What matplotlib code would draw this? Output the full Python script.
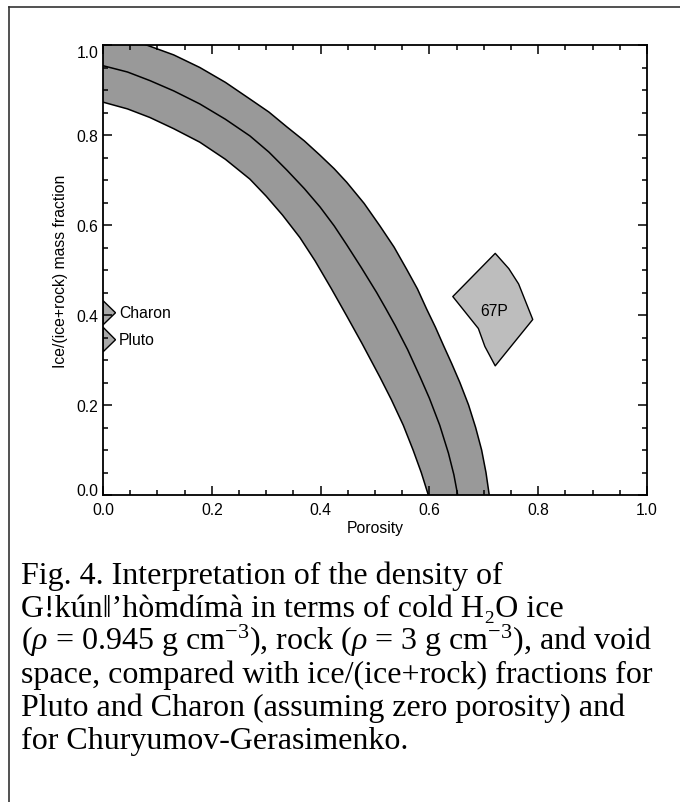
import matplotlib
matplotlib.use("Agg")
import matplotlib.pyplot as plt
from matplotlib.lines import Line2D
from matplotlib.ticker import MultipleLocator

# Band of allowed solutions: porosity vs ice/(ice+rock)
upper_phi = [0.000, 0.040, 0.080, 0.130, 0.178, 0.225, 0.270, 0.305, 0.338, 0.370, 0.399, 0.425,
             0.448, 0.480, 0.509, 0.535, 0.558, 0.578, 0.595, 0.611, 0.626, 0.641, 0.656, 0.672,
             0.685, 0.696, 0.704, 0.710]
upper_f = [1.030, 1.016, 1.000, 0.978, 0.950, 0.917, 0.880, 0.851, 0.818, 0.787, 0.755, 0.725,
           0.695, 0.648, 0.598, 0.551, 0.502, 0.458, 0.413, 0.373, 0.332, 0.292, 0.250, 0.200,
           0.150, 0.100, 0.050, 0.000]

middle_phi = [0.000, 0.045, 0.086, 0.130, 0.178, 0.225, 0.270, 0.305, 0.338, 0.370, 0.399, 0.425,
              0.448, 0.475, 0.503, 0.520, 0.537, 0.560, 0.583, 0.600, 0.619, 0.635, 0.645, 0.652]
middle_f = [0.954, 0.940, 0.921, 0.898, 0.869, 0.835, 0.798, 0.762, 0.722, 0.681, 0.640, 0.598,
            0.556, 0.505, 0.450, 0.414, 0.377, 0.323, 0.262, 0.215, 0.155, 0.093, 0.045, 0.000]

lower_phi = [0.000, 0.045, 0.086, 0.130, 0.178, 0.225, 0.270, 0.300, 0.330, 0.362, 0.390, 0.420,
             0.448, 0.476, 0.509, 0.530, 0.552, 0.570, 0.585, 0.598]
lower_f = [0.873, 0.858, 0.839, 0.814, 0.784, 0.746, 0.702, 0.664, 0.622, 0.572, 0.520, 0.458,
           0.398, 0.337, 0.262, 0.212, 0.155, 0.100, 0.050, 0.000]

# Pluto / Charon markers (zero porosity) and the 67P region
charon_phi = [0.0, 0.023, 0.0]
charon_f = [0.432, 0.405, 0.378]
pluto_phi = [0.0, 0.023, 0.0]
pluto_f = [0.373, 0.345, 0.318]
comet_phi = [0.643, 0.721, 0.746, 0.764, 0.790, 0.721, 0.702, 0.690, 0.643]
comet_f = [0.441, 0.537, 0.503, 0.469, 0.390, 0.287, 0.330, 0.370, 0.441]

ticks = [0.0, 0.2, 0.4, 0.6, 0.8, 1.0]
tick_labels = ["0.0", "0.2", "0.4", "0.6", "0.8", "1.0"]

caption = [
    "Fig. 4. Interpretation of the density of",
    "G!kún\u01c1\u2019hòmdímà in terms of cold H\u2082O ice",
    r"($\rho$ = 0.945 g cm$^{-3}$), rock ($\rho$ = 3 g cm$^{-3}$), and void",
    "space, compared with ice/(ice+rock) fractions for",
    "Pluto and Charon (assuming zero porosity) and",
    "for Churyumov-Gerasimenko.",
]

plt.rcParams["font.family"] = ["Liberation Sans", "DejaVu Sans"]
plt.rcParams["mathtext.fontset"] = "custom"
plt.rcParams["mathtext.rm"] = "Liberation Serif"
plt.rcParams["mathtext.it"] = "Liberation Serif:italic"

W, H = 680, 803
fs = 11.3
fig = plt.figure(figsize=(W / 100, H / 100), dpi=100)
ax = fig.add_axes([103 / W, 1 - 496 / H, 544 / W, 450 / H])

# shaded band: upper edge out, lower edge back
band_x = upper_phi + lower_phi[::-1]
band_y = upper_f + lower_f[::-1]
ax.fill(band_x, band_y, color="#999999", lw=0)
ax.plot(upper_phi, upper_f, color="black", lw=1.1)
ax.plot(middle_phi, middle_f, color="black", lw=1.1)
ax.plot(lower_phi, lower_f, color="black", lw=1.1)

ax.fill(charon_phi, charon_f, facecolor="#a8a8a8", edgecolor="black", lw=1.0)
ax.fill(pluto_phi, pluto_f, facecolor="#a8a8a8", edgecolor="black", lw=1.0)
ax.fill(comet_phi, comet_f, facecolor="#bdbdbd", edgecolor="black", lw=1.0, joinstyle="round")

ax.text(0.029, 0.405, "Charon", fontsize=fs, va="center", ha="left")
ax.text(0.029, 0.345, "Pluto", fontsize=fs, va="center", ha="left")
ax.text(0.720, 0.411, "67P", fontsize=fs, va="center", ha="center")

ax.set_xlim(0, 1)
ax.set_ylim(0, 1)
ax.set_xticks(ticks)
ax.set_xticklabels(tick_labels)
ax.set_yticks(ticks)
ylabels = ax.set_yticklabels(tick_labels)
# end labels sit inside the axis range, as in the original
ylabels[0].set_verticalalignment("baseline")
ylabels[-1].set_verticalalignment("top")
ax.xaxis.set_minor_locator(MultipleLocator(0.05))
ax.yaxis.set_minor_locator(MultipleLocator(0.05))
ax.tick_params(which="both", direction="in", top=True, right=True, width=1.1, labelsize=fs)
ax.tick_params(which="major", length=6.5)
ax.tick_params(which="minor", length=3.5)
ax.tick_params(axis="x", pad=5)
ax.tick_params(axis="y", pad=3.5)
for s in ax.spines.values():
    s.set_linewidth(1.3)
ax.set_xlabel("Porosity", fontsize=fs, labelpad=2.5)
ax.set_ylabel("Ice/(ice+rock) mass fraction", fontsize=fs, labelpad=6)

# caption below the plot
for i, line in enumerate(caption):
    fig.text(21 / W, 1 - (584 + 33 * i) / H, line, fontsize=23, va="baseline",
             family=["Liberation Serif", "DejaVu Serif"])

# frame of the page crop (left and top edges only)
fig.add_artist(Line2D([9 / W, 9 / W], [0, 1 - 8 / H], color="#333333", lw=1.2))
fig.add_artist(Line2D([9 / W, 1], [1 - 8 / H, 1 - 8 / H], color="#333333", lw=1.2))

fig.savefig("out.png", dpi=100)
